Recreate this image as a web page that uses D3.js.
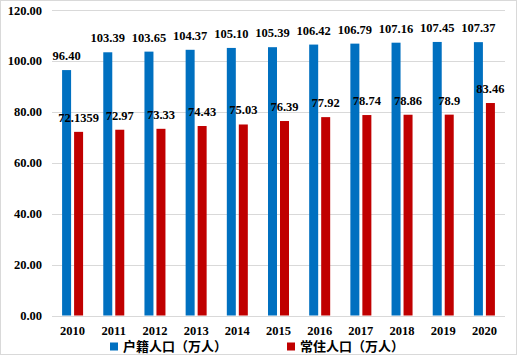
<!DOCTYPE html>
<html><head><meta charset="utf-8">
<script src="https://cdn.jsdelivr.net/npm/d3@7"></script>
<style>
html,body{margin:0;padding:0;background:#fff;}
svg{display:block;}
</style>
</head><body>
<svg id="chart" width="518" height="358"></svg>
<script>
const years = ["2010","2011","2012","2013","2014","2015","2016","2017","2018","2019","2020"];
const huji = [96.40,103.39,103.65,104.37,105.10,105.39,106.42,106.79,107.16,107.45,107.37];
const hujiLabels = ["96.40","103.39","103.65","104.37","105.10","105.39","106.42","106.79","107.16","107.45","107.37"];
const changzhu = [72.1359,72.97,73.33,74.43,75.03,76.39,77.92,78.74,78.86,78.9,83.46];
const changzhuLabels = ["72.1359","72.97","73.33","74.43","75.03","76.39","77.92","78.74","78.86","78.9","83.46"];
const yTicks = [0,20,40,60,80,100,120];
const seriesNames = ["户籍人口（万人）","常住人口（万人）"];
const colors = ["#0070C0","#C00000"];

(function(){
const svg = d3.select("#chart");
const mLeft = 52, mRight = 505, mTop = 10, mBottom = 315.5;
const serif = "'Liberation Serif','Times New Roman',serif";

svg.append("rect").attr("x",0.5).attr("y",0.5).attr("width",516).attr("height",354)
  .attr("fill","#fff").attr("stroke","#d9d9d9").attr("stroke-width",1);

const x = d3.scaleBand().domain(years).range([mLeft,mRight]).padding(0);
const y = d3.scaleLinear().domain([0,120]).range([mBottom,mTop]);

svg.append("g").selectAll("line").data(yTicks).join("line")
  .attr("x1",mLeft).attr("x2",mRight)
  .attr("y1",d=>Math.round(y(d))+0.5).attr("y2",d=>Math.round(y(d))+0.5)
  .attr("stroke","#d9d9d9").attr("stroke-width",1);

const yAxis = d3.axisLeft(y).tickValues(yTicks).tickFormat(d=>d.toFixed(2)).tickSize(0).tickPadding(10);
const gy = svg.append("g").attr("transform",`translate(${mLeft},0)`).call(yAxis);
gy.select(".domain").remove();
gy.selectAll("text").attr("font-family",serif).attr("font-weight","bold").attr("font-size",12.5).attr("fill","#000");

const xAxis = d3.axisBottom(x).tickSize(0).tickPadding(11);
const gx = svg.append("g").attr("transform",`translate(0,${mBottom})`).call(xAxis);
gx.select(".domain").remove();
gx.selectAll("text").attr("font-family",serif).attr("font-weight","bold").attr("font-size",12.5).attr("fill","#000");

const bw = 9, gap = 3;
const bx = (i,s) => x(years[i]) + x.bandwidth()/2 + (s===0 ? -gap/2 - bw : gap/2);

[huji, changzhu].forEach((vals, s) => {
  const labels = s===0 ? hujiLabels : changzhuLabels;
  const g = svg.append("g");
  g.selectAll("rect").data(vals).join("rect")
    .attr("x",(d,i)=>bx(i,s)).attr("width",bw)
    .attr("y",d=>y(d)).attr("height",d=>y(0)-y(d))
    .attr("fill",colors[s]);
  g.selectAll("text").data(vals).join("text")
    .attr("x",(d,i)=>bx(i,s)+bw/2).attr("y",d=>y(d)-10)
    .attr("text-anchor","middle")
    .attr("font-family",serif).attr("font-weight","bold").attr("font-size",12.5).attr("fill","#000")
    .text((d,i)=>labels[i]);
});

const legendX = [110, 287];
seriesNames.forEach((n,s)=>{
  svg.append("rect").attr("x",legendX[s]).attr("y",342.5).attr("width",8).attr("height",8).attr("fill",colors[s]);
  svg.append("text").attr("x",legendX[s]+13).attr("y",351)
    .attr("font-family","'Noto Sans CJK SC',sans-serif").attr("font-weight","bold").attr("font-size",13).attr("fill","#000")
    .text(n);
});
})();
</script>
</body></html>
